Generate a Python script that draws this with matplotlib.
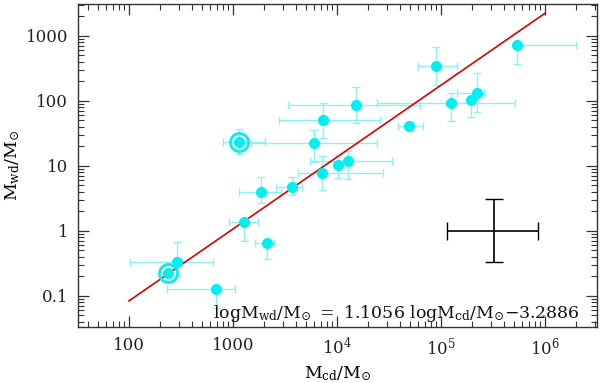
import numpy as np
import matplotlib
matplotlib.use("Agg")
import matplotlib.pyplot as plt

plt.rcParams["font.family"] = "DejaVu Serif"
plt.rcParams["mathtext.fontset"] = "dejavuserif"

# cloud masses (x) and wind-derived masses (y), with error-bar bounds
m_cd = [237, 290, 687, 1276, 2120, 1860, 3690, 1143, 6030, 7180,
        10300, 12700, 7330, 15200, 49000, 89000, 125000, 195000, 220000, 540000]
m_wd = [0.226, 0.33, 0.128, 1.37, 0.65, 4.0, 4.75, 23.4, 22.6, 7.8,
        10.4, 11.9, 51, 87, 41, 345, 93, 103, 132, 727]
m_cd_lo = [237, 102, 232, 910, 1620, 1150, 2600, 800, 1500, 4200,
           10300, 5500, 2750, 3400, 39000, 60000, 24500, 195000, 144000, 540000]
m_cd_hi = [237, 646, 1050, 1730, 2470, 2900, 4600, 2040, 24500, 27500,
           10300, 33900, 25700, 63000, 67000, 141000, 510000, 195000, 260000, 2000000]
m_wd_lo = [0.226, 0.2, 0.066, 0.70, 0.37, 2.7, 3.6, 15, 11.5, 4.3,
           6.5, 6.3, 27, 45, 41, 176, 48, 56, 68, 370]
m_wd_hi = [0.226, 0.68, 0.128, 1.37, 0.65, 6.8, 6.8, 37, 35, 14,
           14.5, 17, 93, 165, 41, 680, 132, 103, 268, 727]
circled = [0, 7]

# linear fit in log space
slope = 1.1056
intercept = -3.2886
fit_x = [100, 1e6]

# typical error cross
cross_x, cross_y = 3.2e5, 1.0
cross_x_lo, cross_x_hi = 1.15e5, 8.5e5
cross_y_lo, cross_y_hi = 0.33, 3.1

m_cd = np.array(m_cd, dtype=float)
m_wd = np.array(m_wd, dtype=float)
xerr = [m_cd - np.array(m_cd_lo), np.array(m_cd_hi) - m_cd]
yerr = [m_wd - np.array(m_wd_lo), np.array(m_wd_hi) - m_wd]

fig = plt.figure(figsize=(6, 3.83), dpi=100)
ax = fig.add_axes([0.13, 0.146, 0.865, 0.844])

ax.errorbar(m_cd, m_wd, xerr=xerr, yerr=yerr, fmt="none",
            ecolor="#8ef0f0", elinewidth=1, capsize=3, zorder=2)
ax.plot(m_cd, m_wd, "o", color="#00f0f0", markersize=8,
        markeredgewidth=0, zorder=4)
ax.plot(m_cd[circled], m_wd[circled], "o", markerfacecolor="none",
        markeredgecolor="#00f0f0", markersize=13, markeredgewidth=2, zorder=4)

fx = np.logspace(np.log10(fit_x[0]), np.log10(fit_x[1]), 50)
ax.plot(fx, 10 ** (slope * np.log10(fx) + intercept), color="#dd0000",
        lw=1.2, zorder=3)

ax.errorbar([cross_x], [cross_y],
            xerr=[[cross_x - cross_x_lo], [cross_x_hi - cross_x]],
            yerr=[[cross_y - cross_y_lo], [cross_y_hi - cross_y]],
            fmt="none", ecolor="black", elinewidth=1.2, capsize=6.5)

ax.set_xscale("log")
ax.set_yscale("log")
ax.set_xlim(10 ** 1.51, 10 ** 6.5)
ax.set_ylim(10 ** -1.48, 10 ** 3.49)

ax.set_xticks([1e2, 1e3, 1e4, 1e5, 1e6],
              ["100", "1000", "$10^4$", "$10^5$", "$10^6$"])
ax.set_yticks([0.1, 1, 10, 100, 1000], ["0.1", "1", "10", "100", "1000"])
ax.tick_params(which="both", direction="in", top=True, right=True,
               colors="#333333", labelcolor="#222222", labelsize=12)
ax.tick_params(which="major", length=8, width=0.9, pad=7)
ax.tick_params(which="minor", length=4, width=0.8)
for s in ax.spines.values():
    s.set_color("#333333")
    s.set_linewidth(1)

ax.set_xlabel(r"$\mathrm{M_{cd}/M_{\odot}}$", fontsize=12.5, labelpad=4)
ax.set_ylabel(r"$\mathrm{M_{wd}/M_{\odot}}$", fontsize=12.5, labelpad=3)

ax.text(0.967, 0.028,
        r"$\mathrm{logM_{wd}/M_{\odot}\ =\ 1.1056\ logM_{cd}/M_{\odot}{-}3.2886}$",
        transform=ax.transAxes, ha="right", va="baseline", fontsize=12.5,
        color="#111111")

fig.savefig("out.png", dpi=100)
plt.close("all")
